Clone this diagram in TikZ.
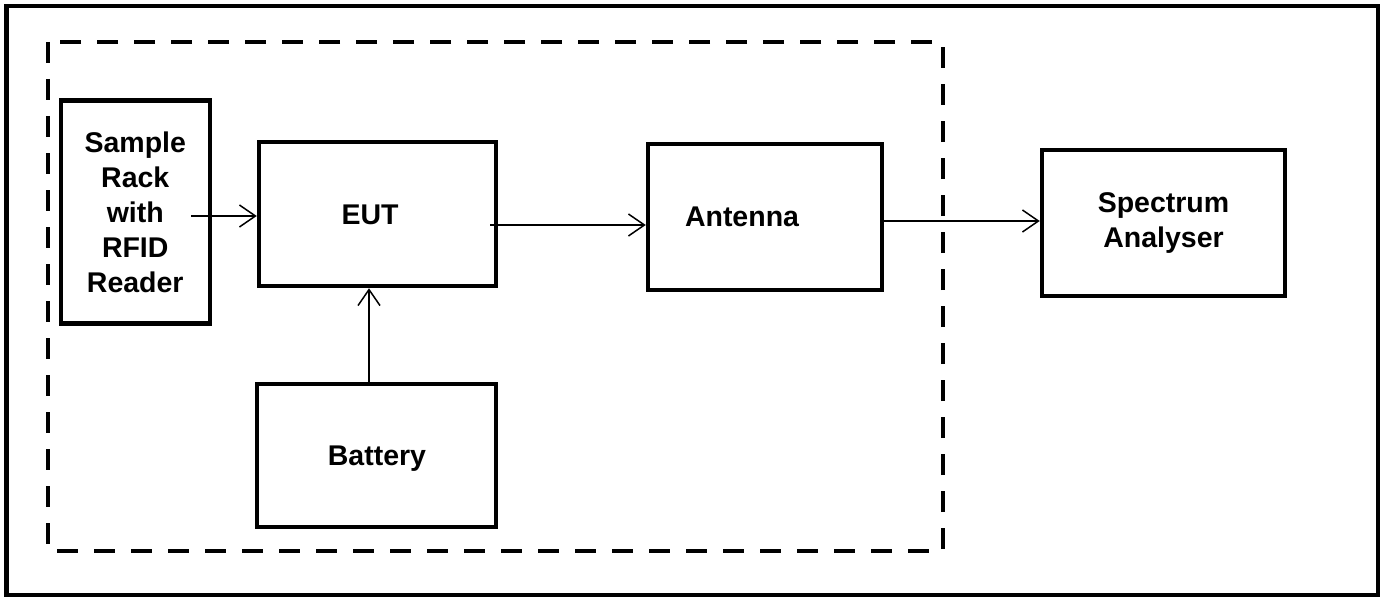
\documentclass[tikz,border=0pt]{standalone}
\usepackage{fontspec}
\setmainfont{Liberation Sans}
\usetikzlibrary{arrows.meta}
\begin{document}
\begin{tikzpicture}[x=1pt,y=-1pt,
  box/.style={draw,line width=4.5pt,inner sep=0pt,align=center,font=\bfseries\fontsize{28.5}{35}\selectfont},
  arr/.style={line width=1.5pt,-{Straight Barb[length=16pt,width=22pt,line width=1.5pt]}}]
\useasboundingbox (0,0) rectangle (1386,599);
\draw[line width=4.5pt] (6.5,6) rectangle (1378,595);
\draw[line width=4.5pt,dash pattern=on 21pt off 16pt] (48,42) rectangle (943,551);
\node[box,minimum width=149pt,minimum height=223pt] (sample) at (135.25,212) {Sample\\Rack\\with\\RFID\\Reader};
\node[box,minimum width=237pt,minimum height=144pt] (eut) at (377.5,214) {};
\node[font=\bfseries\fontsize{28.5}{35}\selectfont] (eutt) at (370,215) {EUT};
\node[box,minimum width=234pt,minimum height=146pt] (ant) at (765,217) {};
\node[font=\bfseries\fontsize{28.5}{35}\selectfont] (antt) at (742,217) {Antenna};
\node[box,minimum width=243pt,minimum height=146pt] (spec) at (1163.5,223) {Spectrum\\Analyser};
\node[box,minimum width=239pt,minimum height=143pt] (bat) at (376.5,455.5) {};
\node[font=\bfseries\fontsize{28.5}{35}\selectfont] (batt) at (377,459) {Battery};
\coordinate (a1) at (191,216);
\coordinate (a2) at (490,225);
\coordinate (a3) at (882,221);
\draw[arr] (a1) -- (eut.west |- a1);
\draw[arr] (a2) -- (ant.west |- a2);
\draw[arr] (a3) -- (spec.west |- a3);
\draw[arr] (bat.north -| 369,0) -- (eut.south -| 369,0);
\end{tikzpicture}
\end{document}
